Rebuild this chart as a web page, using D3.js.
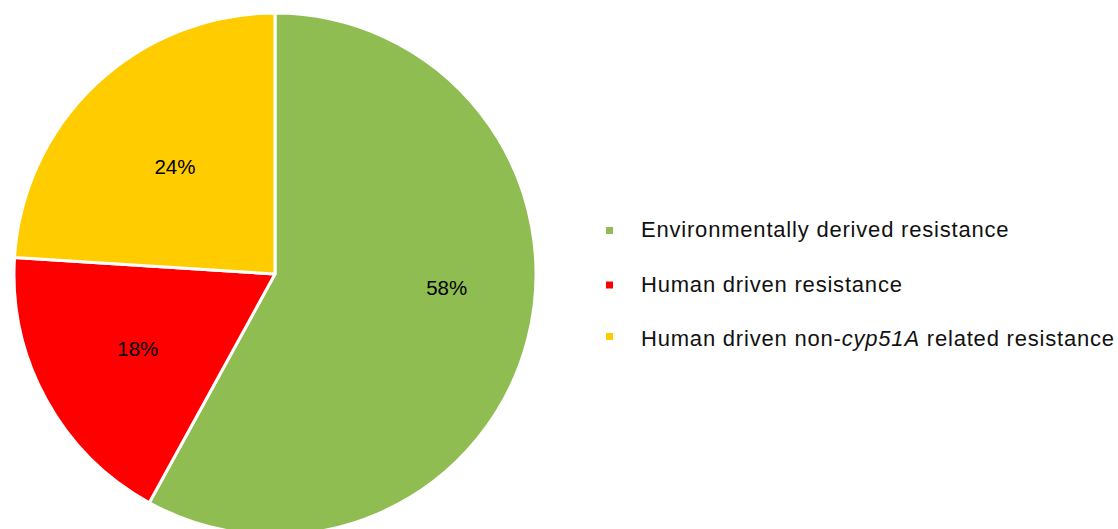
<!DOCTYPE html>
<html><head><meta charset="utf-8">
<script src="https://cdn.jsdelivr.net/npm/d3@7"></script>
<style>body{margin:0;background:#fff;}svg{display:block;font-family:"Liberation Sans",Arial,sans-serif;}</style>
</head><body>
<svg id="chart" width="1118" height="529"></svg>
<script>
const categories = ["Environmentally derived resistance", "Human driven resistance", "Human driven non-cyp51A related resistance"];
const values = [58, 18, 24];
const colors = ["#8FBD52", "#FF0000", "#FFCC00"];

const svg = d3.select("#chart");
const cx = 275, cy = 274, R = 261;
const g = svg.append("g").attr("transform", `translate(${cx},${cy})`);
const pie = d3.pie().sort(null).value(d => d)(values);
const arc = d3.arc().innerRadius(0).outerRadius(R);
g.selectAll("path").data(pie).join("path")
  .attr("d", arc).attr("fill", (d,i) => colors[i])
  .attr("stroke", "#fff").attr("stroke-width", 3).attr("stroke-linejoin","round");
const labelFrac = [0.66, 0.6, 0.56];
const labelShift = [-0.17, 0, 0];
g.selectAll("text.lbl").data(pie).join("text").attr("class","lbl")
  .attr("transform", (d,i) => {
    const a = (d.startAngle + d.endAngle)/2 + labelShift[i];
    const r = R*labelFrac[i];
    return `translate(${r*Math.sin(a)},${-r*Math.cos(a)})`;
  })
  .attr("text-anchor","middle").attr("dy","0.33em")
  .attr("font-size", 20.5).attr("fill","#000")
  .text(d => d3.format(".0%")(d.value/d3.sum(values)));

const leg = svg.append("g").attr("transform","translate(606,229)");
const items = leg.selectAll("g").data(categories).join("g")
  .attr("transform",(d,i)=>`translate(0,${i*54.5})`);
items.append("rect").attr("x",0).attr("y",(d,i)=> i==2 ? -5 : -2).attr("width",7).attr("height",7).attr("fill",(d,i)=>colors[i]);
items.append("text").attr("x",35).attr("y",8).attr("font-size",22).attr("letter-spacing",0.8).attr("fill","#111")
  .each(function(d){
    const t = d3.select(this);
    const m = d.match(/^(.*non-)(cyp51A)(.*)$/);
    if (m) {
      t.append("tspan").text(m[1]);
      t.append("tspan").attr("font-style","italic").text(m[2]);
      t.append("tspan").text(m[3]);
    } else t.text(d);
  });
</script>
</body></html>
